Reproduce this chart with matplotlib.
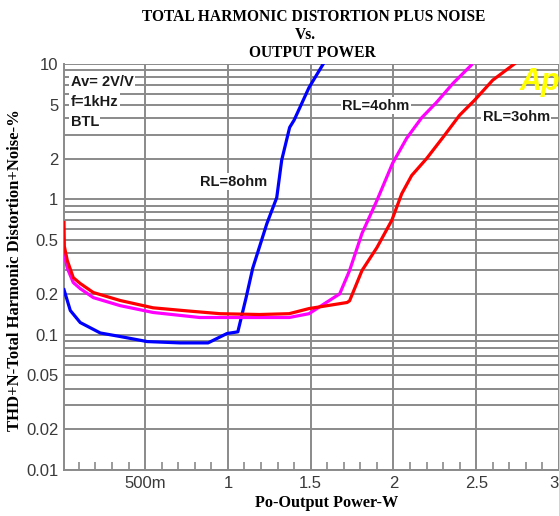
import numpy as np
import matplotlib
matplotlib.use("Agg")
import matplotlib.pyplot as plt
from matplotlib.ticker import FixedLocator, MultipleLocator, LogLocator, NullFormatter

# RL = 8 ohm (blue)
p8 = [0.01, 0.048, 0.108, 0.229, 0.349, 0.512, 0.711, 0.88, 0.994, 1.06,
      1.11, 1.15, 1.235, 1.295, 1.325, 1.373, 1.40, 1.49, 1.58]
thd8 = [0.215, 0.151, 0.123, 0.103, 0.097, 0.089, 0.087, 0.087, 0.102, 0.105,
        0.188, 0.31, 0.66, 1.03, 1.95, 3.4, 3.85, 6.7, 10.2]

# RL = 4 ohm (magenta)
p4 = [0.01, 0.03, 0.066, 0.108, 0.187, 0.349, 0.548, 0.83, 1.19, 1.37,
      1.49, 1.66, 1.675, 1.735, 1.81, 1.90, 1.995, 2.08, 2.17, 2.26, 2.36, 2.47]
thd4 = [0.40, 0.31, 0.243, 0.219, 0.188, 0.164, 0.146, 0.134, 0.134, 0.134,
        0.143, 0.195, 0.20, 0.298, 0.56, 0.98, 1.85, 2.83, 4.0, 5.2, 7.2, 9.8]

# RL = 3 ohm (red)
p3 = [0.01, 0.012, 0.03, 0.066, 0.108, 0.187, 0.349, 0.548, 0.753, 0.952, 1.19,
      1.37, 1.49, 1.72, 1.735, 1.81, 1.90, 1.99, 2.05, 2.11, 2.20, 2.30, 2.40,
      2.49, 2.60, 2.73]
thd3 = [0.675, 0.45, 0.353, 0.264, 0.239, 0.205, 0.179, 0.158, 0.15, 0.143, 0.141,
        0.143, 0.156, 0.173, 0.178, 0.298, 0.44, 0.70, 1.1, 1.5, 2.0, 2.88, 4.19,
        5.4, 7.6, 10.0]

xticks = [0.5, 1, 1.5, 2, 2.5, 3]
xlabels = ['500m', '1', '1.5', '2', '2.5', '3']
yticks = [0.01, 0.02, 0.05, 0.1, 0.2, 0.5, 1, 2, 5, 10]
ylabels = ['0.01', '0.02', '0.05', '0.1', '0.2', '0.5', '1', '2', '5', '10']

fig = plt.figure(figsize=(5.59, 5.16), dpi=100)
ax = fig.add_axes([0.1145, 0.089, 0.8855, 0.787])

gc = '#8a8a8a'
ax.set_yscale('log')
ax.set_xlim(0.01, 3)
ax.set_ylim(0.01, 10)

ax.yaxis.set_major_locator(FixedLocator(yticks))
ax.set_yticklabels(ylabels)
ax.yaxis.set_minor_locator(LogLocator(base=10, subs=np.arange(2, 10)))
ax.yaxis.set_minor_formatter(NullFormatter())
ax.xaxis.set_major_locator(FixedLocator(xticks))
ax.set_xticklabels(xlabels)
ax.xaxis.set_minor_locator(MultipleLocator(0.1))

ax.grid(True, which='major', axis='both', color=gc, linewidth=1.4)
ax.grid(True, which='minor', axis='y', color=gc, linewidth=1.4)
ax.tick_params(axis='both', which='major', length=0, labelsize=12,
               labelcolor='#3a3a3a', pad=4)
ax.tick_params(axis='x', which='minor', direction='in', length=6,
               color=gc, width=1.2)
ax.tick_params(axis='y', which='minor', length=0)
for lab in ax.get_xticklabels() + ax.get_yticklabels():
    lab.set_family('Liberation Sans')
ax.get_xticklabels()[-1].set_ha('right')

for s in ['top', 'right']:
    ax.spines[s].set_visible(False)
for s in ['left', 'bottom']:
    ax.spines[s].set_color(gc)
    ax.spines[s].set_linewidth(1.4)

ax.plot(p8, thd8, color='#0000ff', linewidth=2.3, zorder=3)
ax.plot(p4, thd4, color='#ff00ff', linewidth=2.3, zorder=3)
ax.plot(p3, thd3, color='#ff0000', linewidth=2.3, zorder=4)

lbl = dict(family='Liberation Sans', fontweight='bold', fontsize=10.5,
           color='#1a1a1a', va='center', ha='left',
           bbox=dict(facecolor='white', edgecolor='none', pad=1), zorder=5)
ax.text(0.05, 7.4, 'Av= 2V/V', **lbl)
ax.text(0.05, 5.25, 'f=1kHz', **lbl)
ax.text(0.05, 3.7, 'BTL', **lbl)
ax.text(0.83, 1.35, 'RL=8ohm', **lbl)
ax.text(1.69, 4.9, 'RL=4ohm', **lbl)
ax.text(2.54, 4.05, 'RL=3ohm', **lbl)
ax.text(2.76, 7.3, 'Ap', family='Liberation Sans', fontweight='bold',
        style='italic', fontsize=22, color='#ffff00', va='center', ha='left',
        zorder=5)

tfont = dict(family='Liberation Serif', fontweight='bold', fontsize=11.2,
             ha='center', va='center')
fig.text(0.562, 0.968, 'TOTAL HARMONIC DISTORTION PLUS NOISE', **tfont)
fig.text(0.546, 0.932, 'Vs.', **tfont)
fig.text(0.558, 0.898, 'OUTPUT POWER', **tfont)
fig.text(0.585, 0.025, 'Po-Output Power-W', family='Liberation Serif',
         fontweight='bold', fontsize=11.7, ha='center', va='center')
fig.text(0.027, 0.477, 'THD+N-Total Harmonic Distortion+Noise-%', ha='center',
         va='center', rotation=90, family='Liberation Serif',
         fontweight='bold', fontsize=12)

fig.savefig('out.png', dpi=100, facecolor='white')
